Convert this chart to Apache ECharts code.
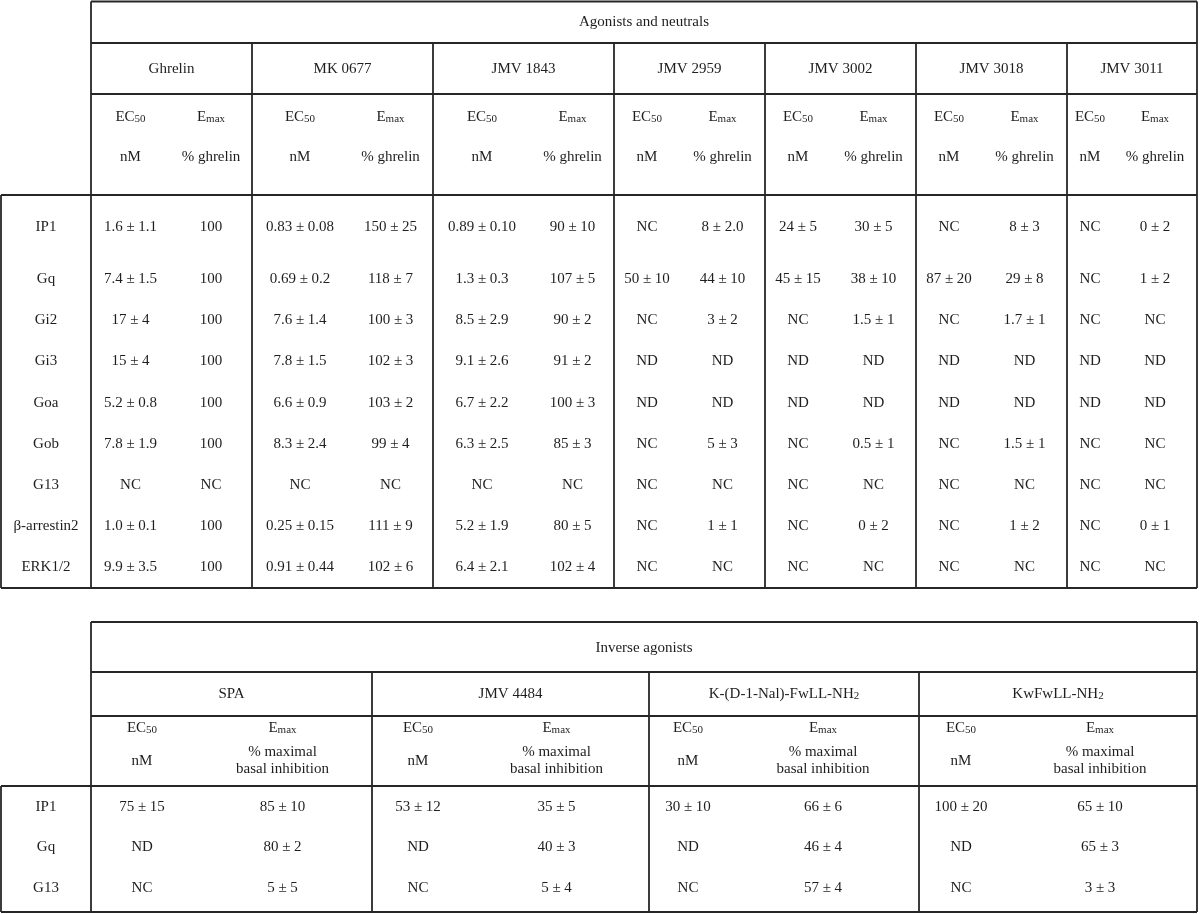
<!DOCTYPE html>
<html>
<head>
<meta charset="utf-8">
<script src="https://cdn.jsdelivr.net/npm/echarts@6/dist/echarts.min.js"></script>
<style>
  html, body { margin: 0; padding: 0; background: #ffffff; }
  #chart { width: 1200px; height: 914px; }
</style>
</head>
<body>
<div id="chart"></div>
<script>
// ================= DATA =================
// --- top table: agonists and neutrals ---
const topGroupTitle = 'Agonists and neutrals';
const topCompounds = ['Ghrelin', 'MK 0677', 'JMV 1843', 'JMV 2959', 'JMV 3002', 'JMV 3018', 'JMV 3011'];
const topReadouts = ['IP1', 'Gq', 'Gi2', 'Gi3', 'Goa', 'Gob', 'G13', 'β-arrestin2', 'ERK1/2'];
const topEC50Header = ['EC{sub|50}', 'nM'];
const topEmaxHeader = ['E{sub|max}', '% ghrelin'];

const ghrelinEC50 = ['1.6 ± 1.1', '7.4 ± 1.5', '17 ± 4', '15 ± 4', '5.2 ± 0.8', '7.8 ± 1.9', 'NC', '1.0 ± 0.1', '9.9 ± 3.5'];
const ghrelinEmax = ['100', '100', '100', '100', '100', '100', 'NC', '100', '100'];
const mk0677EC50 = ['0.83 ± 0.08', '0.69 ± 0.2', '7.6 ± 1.4', '7.8 ± 1.5', '6.6 ± 0.9', '8.3 ± 2.4', 'NC', '0.25 ± 0.15', '0.91 ± 0.44'];
const mk0677Emax = ['150 ± 25', '118 ± 7', '100 ± 3', '102 ± 3', '103 ± 2', '99 ± 4', 'NC', '111 ± 9', '102 ± 6'];
const jmv1843EC50 = ['0.89 ± 0.10', '1.3 ± 0.3', '8.5 ± 2.9', '9.1 ± 2.6', '6.7 ± 2.2', '6.3 ± 2.5', 'NC', '5.2 ± 1.9', '6.4 ± 2.1'];
const jmv1843Emax = ['90 ± 10', '107 ± 5', '90 ± 2', '91 ± 2', '100 ± 3', '85 ± 3', 'NC', '80 ± 5', '102 ± 4'];
const jmv2959EC50 = ['NC', '50 ± 10', 'NC', 'ND', 'ND', 'NC', 'NC', 'NC', 'NC'];
const jmv2959Emax = ['8 ± 2.0', '44 ± 10', '3 ± 2', 'ND', 'ND', '5 ± 3', 'NC', '1 ± 1', 'NC'];
const jmv3002EC50 = ['24 ± 5', '45 ± 15', 'NC', 'ND', 'ND', 'NC', 'NC', 'NC', 'NC'];
const jmv3002Emax = ['30 ± 5', '38 ± 10', '1.5 ± 1', 'ND', 'ND', '0.5 ± 1', 'NC', '0 ± 2', 'NC'];
const jmv3018EC50 = ['NC', '87 ± 20', 'NC', 'ND', 'ND', 'NC', 'NC', 'NC', 'NC'];
const jmv3018Emax = ['8 ± 3', '29 ± 8', '1.7 ± 1', 'ND', 'ND', '1.5 ± 1', 'NC', '1 ± 2', 'NC'];
const jmv3011EC50 = ['NC', 'NC', 'NC', 'ND', 'ND', 'NC', 'NC', 'NC', 'NC'];
const jmv3011Emax = ['0 ± 2', '1 ± 2', 'NC', 'ND', 'ND', 'NC', 'NC', '0 ± 1', 'NC'];

// --- bottom table: inverse agonists ---
const bottomGroupTitle = 'Inverse agonists';
const bottomCompounds = ['SPA', 'JMV 4484', 'K-(D-1-Nal)-FwLL-NH{sub|2}', 'KwFwLL-NH{sub|2}'];
const bottomReadouts = ['IP1', 'Gq', 'G13'];
const bottomEC50Header = ['EC{sub|50}', 'nM'];
const bottomEmaxHeader = ['E{sub|max}', '% maximal\nbasal inhibition'];

const spaEC50 = ['75 ± 15', 'ND', 'NC'];
const spaEmax = ['85 ± 10', '80 ± 2', '5 ± 5'];
const jmv4484EC50 = ['53 ± 12', 'ND', 'NC'];
const jmv4484Emax = ['35 ± 5', '40 ± 3', '5 ± 4'];
const kNalEC50 = ['30 ± 10', 'ND', 'NC'];
const kNalEmax = ['66 ± 6', '46 ± 4', '57 ± 4'];
const kwfwEC50 = ['100 ± 20', 'ND', 'NC'];
const kwfwEmax = ['65 ± 10', '65 ± 3', '3 ± 3'];

const topColumns = [
  [ghrelinEC50, ghrelinEmax], [mk0677EC50, mk0677Emax], [jmv1843EC50, jmv1843Emax],
  [jmv2959EC50, jmv2959Emax], [jmv3002EC50, jmv3002Emax], [jmv3018EC50, jmv3018Emax],
  [jmv3011EC50, jmv3011Emax]
];
const bottomColumns = [
  [spaEC50, spaEmax], [jmv4484EC50, jmv4484Emax], [kNalEC50, kNalEmax], [kwfwEC50, kwfwEmax]
];

// ================= LAYOUT (axis units = px) =================
const LAYOUT = {
  labelLeft: 1, labelX: 46, left: 91, right: 1197,
  top: {
    hLines: [1.5, 43, 94, 195, 588], bodyTop: 195, compTop: 43,
    groupEdges: [91, 252, 433, 614, 765, 916, 1067, 1197],
    splits: [170, 348, 531, 680, 831, 982, 1113],
    titleY: 22, compY: 69, unitY: [117, 157],
    rowY: [227, 279, 320, 361, 403, 444, 485, 526, 567]
  },
  bottom: {
    hLines: [622, 672, 716, 786, 912], bodyTop: 786, compTop: 672,
    groupEdges: [91, 372, 649, 919, 1197],
    splits: [193, 464, 727, 1003],
    titleY: 648, compY: 694, unitY: [728, 761],
    rowY: [807, 847, 888]
  }
};
const FONT = '"Liberation Serif", "Times New Roman", "DejaVu Serif", serif';
const TEXT_COLOR = '#1e1e1e';
const LINE_COLOR = '#262626';

// ================= BUILD ITEMS =================
const textItems = [];
const lineItems = [];

function buildTable(T, title, compounds, readouts, ec50Head, emaxHead, columns) {
  const top = T.hLines[0], bottom = T.hLines[T.hLines.length - 1];
  // horizontal lines
  T.hLines.forEach(y => {
    const x1 = y >= T.bodyTop ? LAYOUT.labelLeft : LAYOUT.left;
    lineItems.push([x1, y, LAYOUT.right, y]);
  });
  // vertical lines
  lineItems.push([LAYOUT.labelLeft, T.bodyTop, LAYOUT.labelLeft, bottom]);
  lineItems.push([LAYOUT.left, top, LAYOUT.left, bottom]);
  lineItems.push([LAYOUT.right, top, LAYOUT.right, bottom]);
  T.groupEdges.slice(1, -1).forEach(x => lineItems.push([x, T.compTop, x, bottom]));

  // title
  textItems.push({ x: (LAYOUT.left + LAYOUT.right) / 2, y: T.titleY, t: title });
  compounds.forEach((c, i) => {
    const l = T.groupEdges[i], r = T.groupEdges[i + 1], s = T.splits[i];
    textItems.push({ x: (l + r) / 2, y: T.compY, t: c });
    const cx0 = (l + s) / 2, cx1 = (s + r) / 2;
    textItems.push({ x: cx0, y: T.unitY[0], t: ec50Head[0] });
    textItems.push({ x: cx0, y: T.unitY[1], t: ec50Head[1] });
    textItems.push({ x: cx1, y: T.unitY[0], t: emaxHead[0] });
    textItems.push({ x: cx1, y: T.unitY[1], t: emaxHead[1], lh: 17 });
    readouts.forEach((r2, j) => {
      textItems.push({ x: cx0, y: T.rowY[j], t: columns[i][0][j] });
      textItems.push({ x: cx1, y: T.rowY[j], t: columns[i][1][j] });
    });
  });
  readouts.forEach((r, j) => {
    textItems.push({ x: LAYOUT.labelX, y: T.rowY[j], t: r });
  });
}

buildTable(LAYOUT.top, topGroupTitle, topCompounds, topReadouts, topEC50Header, topEmaxHeader, topColumns);
buildTable(LAYOUT.bottom, bottomGroupTitle, bottomCompounds, bottomReadouts, bottomEC50Header, bottomEmaxHeader, bottomColumns);

// ================= CHART =================
const chart = echarts.init(document.getElementById('chart'), null, { renderer: 'canvas' });
const RICH = {
  sub: { fontSize: 11, fontFamily: FONT, fill: TEXT_COLOR, color: TEXT_COLOR, lineHeight: 11, verticalAlign: 'bottom' }
};

chart.setOption({
  backgroundColor: '#ffffff',
  animation: false,
  grid: { left: 0, right: 0, top: 0, bottom: 0 },
  xAxis: { type: 'value', min: 0, max: 1200, show: false },
  yAxis: { type: 'value', min: 0, max: 914, inverse: true, show: false },
  series: [
    {
      type: 'custom',
      silent: true,
      clip: false,
      data: lineItems,
      encode: { x: [0, 2], y: [1, 3] },
      renderItem: function (params, api) {
        const p1 = api.coord([api.value(0), api.value(1)]);
        const p2 = api.coord([api.value(2), api.value(3)]);
        return {
          type: 'line',
          shape: { x1: p1[0], y1: p1[1], x2: p2[0], y2: p2[1] },
          style: { stroke: LINE_COLOR, lineWidth: 1.8 }
        };
      }
    },
    {
      type: 'custom',
      silent: true,
      clip: false,
      data: textItems.map(d => [d.x, d.y]),
      renderItem: function (params, api) {
        const p = api.coord([api.value(0), api.value(1)]);
        const it = textItems[params.dataIndex];
        return {
          type: 'text',
          x: p[0], y: p[1],
          style: {
            text: it.t,
            fill: TEXT_COLOR,
            fontSize: 15,
            fontFamily: FONT,
            align: 'center',
            verticalAlign: 'middle',
            lineHeight: it.lh || 16,
            rich: RICH
          }
        };
      }
    }
  ]
});
</script>
</body>
</html>
